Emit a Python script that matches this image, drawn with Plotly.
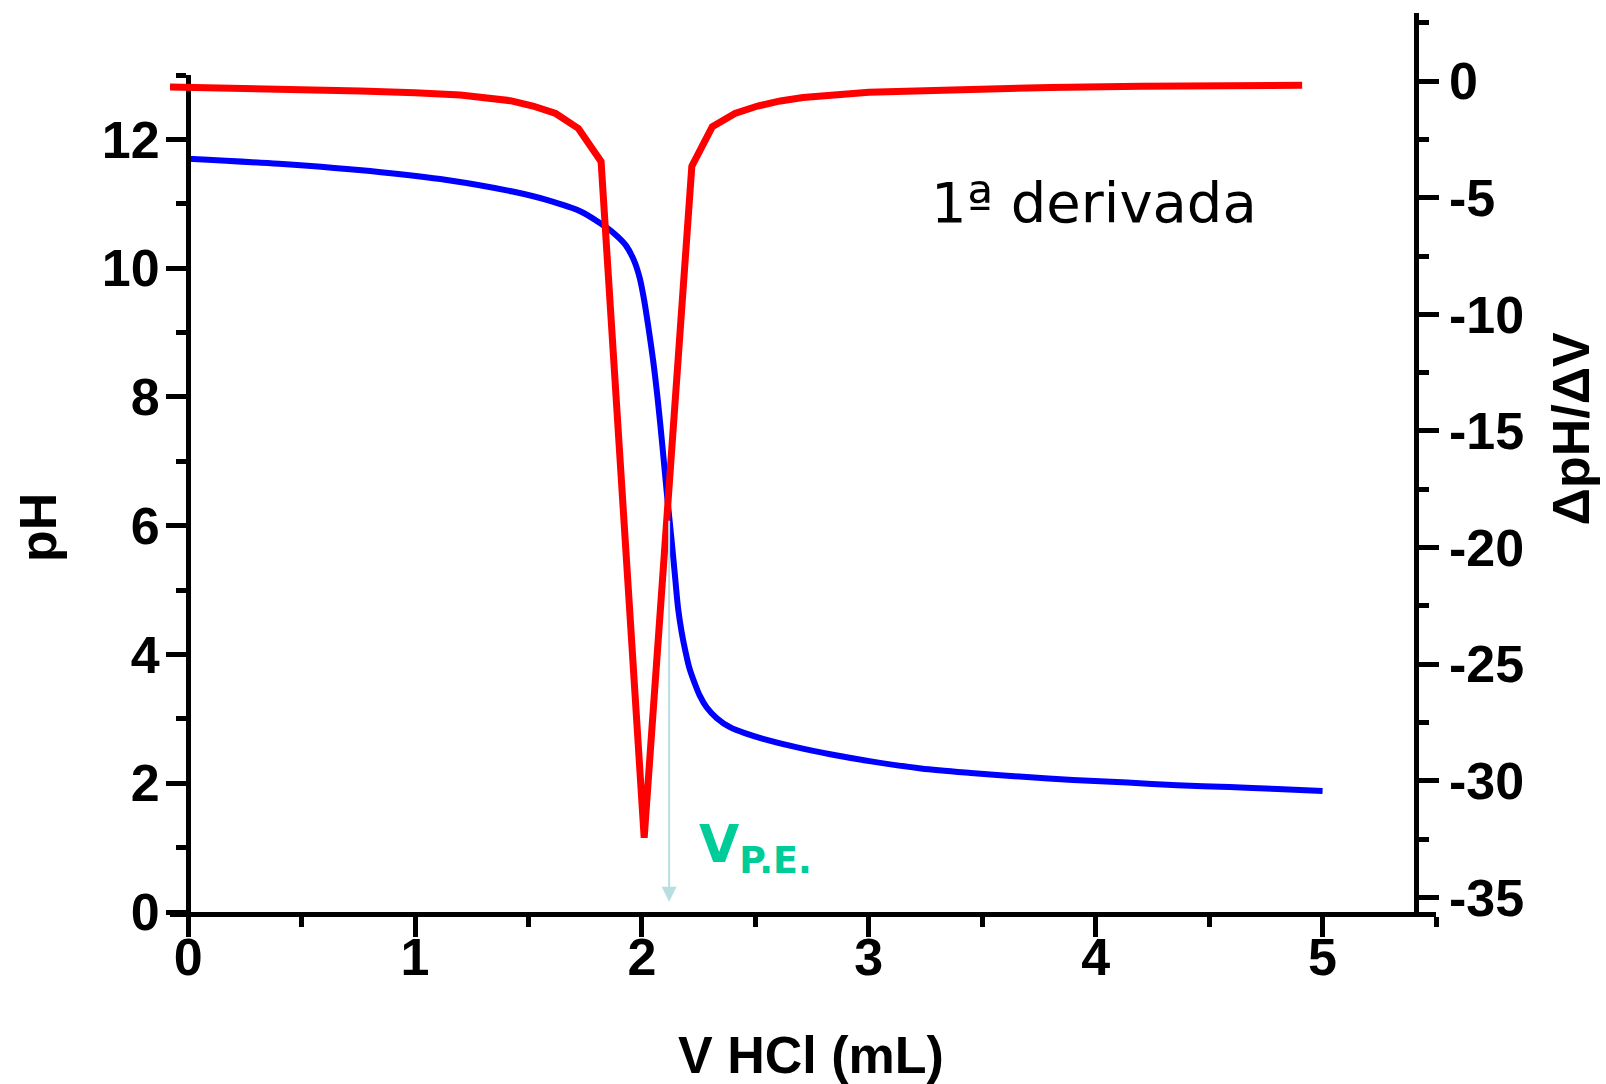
import plotly.graph_objects as go

# ---- data ----
v_ph = [0.00, 0.40, 0.85, 1.14, 1.43, 1.58, 1.73, 1.815, 1.88, 1.93, 1.965, 1.99, 2.01, 2.03,
        2.05, 2.07, 2.09, 2.11, 2.13, 2.145, 2.16, 2.175, 2.19, 2.21, 2.233, 2.255, 2.285,
        2.33, 2.388, 2.46, 2.534, 2.68, 2.83, 3.01, 3.23, 3.45, 3.68, 3.90, 4.14, 4.36,
        4.59, 4.80, 5.00]
ph = [11.70, 11.62, 11.49, 11.37, 11.19, 11.06, 10.88, 10.70, 10.53, 10.35, 10.12, 9.85, 9.50, 9.05,
      8.55, 7.95, 7.25, 6.50, 5.80, 5.25, 4.70, 4.35, 4.08, 3.78, 3.55, 3.36, 3.18,
      3.01, 2.87, 2.77, 2.69, 2.56, 2.45, 2.34, 2.23, 2.16, 2.10, 2.05, 2.01, 1.97,
      1.94, 1.91, 1.88]

v_deriv = [-0.08, 0.40, 0.76, 1.00, 1.20, 1.42, 1.52, 1.62, 1.72, 1.82, 2.01, 2.22, 2.31,
           2.41, 2.51, 2.61, 2.71, 3.00, 3.42, 3.80, 4.20, 4.91]
dph_dv = [-0.25, -0.32, -0.42, -0.50, -0.60, -0.84, -1.07, -1.39, -2.03, -3.45, -32.45, -3.65, -1.96,
          -1.39, -1.07, -0.85, -0.70, -0.48, -0.34, -0.27, -0.22, -0.18]

x_tickvals = [0, 1, 2, 3, 4, 5]
x_ticktext = ["0", "1", "2", "3", "4", "5"]
ph_tickvals = [0, 2, 4, 6, 8, 10, 12]
ph_ticktext = ["0", "2", "4", "6", "8", "10", "12"]
d_tickvals = [0, -5, -10, -15, -20, -25, -30, -35]
d_ticktext = ["0", "-5", "-10", "-15", "-20", "-25", "-30", "-35"]

v_pe = 2.12
arrow_top_ph = 6.1
arrow_tip_ph = 0.16

# ---- layout geometry ----
W, H = 1606, 1084
L, R, T, B = 170, 1436.5, 13, 912
PW, PH = R - L, B - T


def fx(p):
    return (p - L) / PW


def fy(p):
    return (B - p) / PH


FONT = "Liberation Sans, Arial, sans-serif"
AX = dict(showgrid=False, zeroline=False, showline=True, linecolor="black", linewidth=5,
          ticks="outside", tickcolor="black", tickwidth=5, ticklen=20,
          tickfont=dict(family=FONT, size=52, color="black", weight="bold"))

fig = go.Figure()
fig.add_trace(go.Scatter(x=v_ph, y=ph, mode="lines", xaxis="x", yaxis="y",
                         line=dict(color="#0000FF", width=6, shape="spline", smoothing=0.9),
                         showlegend=False, hoverinfo="skip"))
fig.add_trace(go.Scatter(x=v_deriv, y=dph_dv, mode="lines", xaxis="x", yaxis="y2",
                         line=dict(color="#FF0000", width=7),
                         showlegend=False, hoverinfo="skip"))

fig.update_layout(
    width=W, height=H,
    margin=dict(l=L, r=W - R, t=T, b=H - B, pad=0),
    paper_bgcolor="white", plot_bgcolor="rgba(0,0,0,0)",
    xaxis=dict(AX, range=[-0.08, 5.5], domain=[0, 1], anchor="y",
               tickvals=x_tickvals, ticktext=x_ticktext, ticklabelstandoff=-24,
               minor=dict(dtick=0.5, tick0=0, ticks="outside", ticklen=10, tickwidth=5,
                          tickcolor="black")),
    yaxis=dict(AX, range=[0, 13], domain=[0, fy(75)], anchor="free", position=fx(188),
               side="left", tickvals=ph_tickvals, ticktext=ph_ticktext, ticklabelstandoff=-4,
               minor=dict(dtick=1, tick0=0, ticks="outside", ticklen=10, tickwidth=5,
                          tickcolor="black")),
    yaxis2=dict(AX, range=[-35.63, 2.92], domain=[0, 1], anchor="free", position=fx(1416),
                side="right", tickvals=d_tickvals, ticktext=d_ticktext,
                minor=dict(dtick=2.5, tick0=0, ticks="outside", ticklen=10, tickwidth=5,
                           tickcolor="black")),
)

ann = []
ann.append(dict(xref="paper", yref="paper", x=fx(38), y=fy(528), text="pH", textangle=-90,
                showarrow=False, font=dict(family=FONT, size=52, color="black", weight="bold"),
                xanchor="center", yanchor="middle"))
ann.append(dict(xref="paper", yref="paper", x=fx(811), y=fy(1055), text="V HCl (mL)",
                showarrow=False, font=dict(family=FONT, size=52, color="black", weight="bold"),
                xanchor="center", yanchor="middle"))
ann.append(dict(xref="paper", yref="paper", x=fx(1572), y=fy(428), text="ΔpH/ΔV", textangle=-90,
                showarrow=False, font=dict(family=FONT, size=52, color="black", weight="bold"),
                xanchor="center", yanchor="middle"))
ann.append(dict(xref="paper", yref="paper", x=fx(1094), y=fy(202), text="1ª derivada",
                showarrow=False, font=dict(family="DejaVu Sans", size=56, color="black"),
                xanchor="center", yanchor="middle"))
ann.append(dict(xref="paper", yref="paper", x=fx(697), y=fy(848), text="V<sub>P.E.</sub>",
                showarrow=False, font=dict(family="DejaVu Sans", size=52, color="#00CC99", weight="bold"),
                xanchor="left", yanchor="middle"))
ann.append(dict(xref="x", yref="y", x=v_pe, y=arrow_tip_ph, axref="x", ayref="y",
                ax=v_pe, ay=arrow_top_ph, text="", showarrow=True, arrowhead=2,
                arrowsize=1.5, arrowwidth=2, arrowcolor="#B8DEE2"))
fig.update_layout(annotations=ann)

fig.write_html("out.html")
